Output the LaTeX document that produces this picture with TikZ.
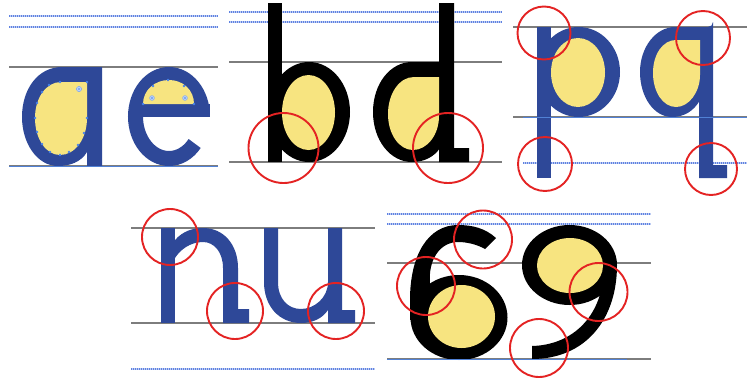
\documentclass[tikz,border=0pt]{standalone}
\definecolor{lblue}{RGB}{46,72,152}
\definecolor{lyel}{RGB}{247,228,128}
\definecolor{guide}{RGB}{125,125,125}
\definecolor{dotb}{RGB}{95,130,225}
\definecolor{redring}{RGB}{228,35,35}
\definecolor{anch}{RGB}{70,130,235}
\begin{document}
\begin{tikzpicture}[x=1pt,y=-1pt,
  guideline/.style={draw=guide,line width=1.5},
  baseblue/.style={draw=anch!80!guide,line width=0.7},
  dotline/.style={draw=dotb,line width=1.4,dash pattern=on 1pt off 1pt,
    preaction={draw=dotb!40,line width=1.4,solid}},
  ringmark/.style={draw=redring,line width=1.9},
  blueglyph/.style={fill=lblue},
  blackglyph/.style={fill=black},
  counter/.style={fill=lyel},
  adot/.style={fill=anch},
  ahandle/.style={fill=anch!35,draw=anch!70,line width=0.5}]
\useasboundingbox[fill=white] (0,0) rectangle (747,378);

% ---------------- guide lines ----------------
% panel 1
\draw[dotline] (9,16) -- (218,16);
\draw[dotline] (9,27) -- (218,27);
\draw[guideline] (9,67) -- (218,67);
\draw[guideline] (9,166) -- (218,166);
% panel 2
\draw[dotline] (229,12) -- (502,12);
\draw[dotline] (229,22) -- (502,22);
\draw[guideline] (229,62) -- (502,62);
\draw[guideline] (229,162) -- (502,162);
% panel 3
\draw[guideline] (513,27) -- (747,27);
\draw[guideline] (513,117) -- (747,117);
\draw[dotline] (523,163) -- (747,163);
% panel 4
\draw[guideline] (131,228) -- (375,228);
\draw[guideline] (131,323) -- (375,323);
\draw[dotline] (131,369) -- (375,369);
% panel 5
\draw[dotline] (387,214) -- (651,214);
\draw[dotline] (387,224) -- (651,224);
\draw[guideline] (387,263) -- (651,263);
\draw[guideline] (387,359) -- (651,359);

% ---------------- a ----------------
\fill[blueglyph] (87,152) .. controls (81,162) and (70,166) .. (58,166)
  .. controls (37,166) and (22,143) .. (22,117)
  .. controls (22,89) and (38,67) .. (62,67) -- (102,67) -- (102,166) -- (87,166) -- cycle;
\fill[counter] (87,82) -- (61,82) .. controls (46,82) and (35,98) .. (35,118)
  .. controls (35,139) and (46,155) .. (60,155)
  .. controls (75,155) and (87,139) .. (87,118) -- cycle;
\foreach \p in {(60,82),(87,82),(49,85),(42,92),(37,103),(35,118),(37,132),(42,144),(50,152),(60,155),(69,152),(78,145),(84,133),(87,118)}
  \fill[adot] \p circle (1.3);
\filldraw[ahandle] (79,89) circle (2.6);
\fill[adot] (79,89) circle (0.8);

% ---------------- e ----------------
\draw[draw=lblue,line width=15] (202.5,116.5) arc[start angle=0,end angle=-320,x radius=33.5,y radius=42];
\fill[blueglyph] (136,104) rectangle (210,117);
\fill[counter] (143,104) .. controls (143,90) and (155,80) .. (169,80)
  .. controls (183,80) and (194,90) .. (194,104) -- cycle;
\foreach \p in {(143,104),(194,104),(153,86),(168,80),(184,86)}
  \fill[adot] \p circle (1.3);
\filldraw[ahandle] (152,98) circle (2.4);
\filldraw[ahandle] (185,98) circle (2.4);
\fill[adot] (152,98) circle (0.8);
\fill[adot] (185,98) circle (0.8);
\draw[baseblue] (9,166) -- (218,166);

% ---------------- b ----------------
\fill[blackglyph] (268,3) rectangle (282,162);
\fill[blackglyph] (309,112) ellipse[x radius=41,y radius=50];
\fill[counter] (308.5,112.5) ellipse[x radius=26.5,y radius=37.5];

% ---------------- d ----------------
\fill[blackglyph] (440,148) .. controls (434,157) and (424,162) .. (412,162)
  .. controls (390,162) and (373,140) .. (373,112)
  .. controls (373,84) and (390,62) .. (412,62) -- (440,62) -- cycle;
\fill[blackglyph] (439,3) -- (454,3) -- (454,148) -- (469,148) -- (469,162) -- (439,162) -- cycle;
\fill[counter] (439,77) -- (414,77) .. controls (399,77) and (388,94) .. (388,114)
  .. controls (388,134) and (399,150) .. (413,150)
  .. controls (427,150) and (439,135) .. (439,116) -- cycle;

% ---------------- p ----------------
\fill[blueglyph] (537,27) rectangle (551,178);
\fill[blueglyph] (578.5,72) ellipse[x radius=41.5,y radius=45];
\fill[counter] (578,72.5) ellipse[x radius=27,y radius=34.5];

% ---------------- q ----------------
\fill[blueglyph] (700,100) .. controls (694,111) and (684,117) .. (672,117)
  .. controls (654,117) and (640,97) .. (640,72)
  .. controls (640,47) and (656,27) .. (675,27) -- (700,27) -- cycle;
\fill[blueglyph] (699,27) -- (708,27) arc[start angle=90,end angle=0,radius=5] -- (713,165) -- (727,165) -- (727,178) -- (699,178) -- cycle;
\fill[counter] (700,40) -- (676,40) .. controls (663,40) and (653,54) .. (653,73)
  .. controls (653,92) and (663,107) .. (676,107)
  .. controls (689,107) and (700,92) .. (700,75) -- cycle;
\draw[baseblue] (523,117) -- (747,117);

% ---------------- n ----------------
\fill[blueglyph] (161,228) rectangle (175,323);
\fill[blueglyph] (175,240) .. controls (183,231) and (193,228) .. (203,228)
  .. controls (224,228) and (238,245) .. (238,268) -- (238,309) -- (249,309) -- (249,323) -- (223,323) -- (223,268)
  .. controls (223,252) and (214,242) .. (203,242)
  .. controls (190,242) and (180,250) .. (175,258) -- cycle;

% ---------------- u ----------------
\fill[blueglyph] (264,228) -- (278,228) -- (278,282)
  .. controls (278,299) and (288,309) .. (301,309)
  .. controls (314,309) and (328,298) .. (328,282) -- (328,310)
  .. controls (322,319) and (312,323) .. (301,323)
  .. controls (279,323) and (264,306) .. (264,282) -- cycle;
\fill[blueglyph] (328,228) -- (342,228) -- (342,310) -- (355,310) -- (355,323) -- (328,323) -- cycle;

% ---------------- 6 ----------------
\fill[blackglyph] (496,238) .. controls (485,228) and (472,225) .. (458,225)
  .. controls (428,225) and (410,255) .. (410,300) -- (410,320) -- (428,318) -- (430,283)
  .. controls (428,260) and (440,242) .. (458,242)
  .. controls (468,242) and (478,245) .. (485,249) -- cycle;
\fill[blackglyph] (459,317.5) ellipse[x radius=48.5,y radius=42.5];
\fill[counter] (461.5,316.5) ellipse[x radius=33.5,y radius=31.5];

% ---------------- 9 ----------------
\fill[blackglyph] (617,265) .. controls (617,320) and (585,359) .. (532,359) -- (532,346)
  .. controls (570,345) and (598,320) .. (603,280) -- cycle;
\fill[blackglyph] (569.5,265) ellipse[x radius=47.5,y radius=40];
\fill[counter] (570,265.5) ellipse[x radius=33,y radius=27.5];
\draw[baseblue] (387,359) -- (627,359);

% ---------------- red rings ----------------
\draw[ringmark] (283.5,148) circle (35);
\draw[ringmark] (448,148) circle (35);
\draw[ringmark] (544,33) circle (26.5);
\draw[ringmark] (545,164) circle (27);
\draw[ringmark] (703,38) circle (27);
\draw[ringmark] (711,169) circle (26);
\draw[ringmark] (170,237) circle (28);
\draw[ringmark] (235,311) circle (28);
\draw[ringmark] (336,311) circle (28);
\draw[ringmark] (483,239.5) circle (29);
\draw[ringmark] (426,286) circle (29);
\draw[ringmark] (598.5,292) circle (29);
\draw[ringmark] (539,348) circle (29);
\end{tikzpicture}
\end{document}
